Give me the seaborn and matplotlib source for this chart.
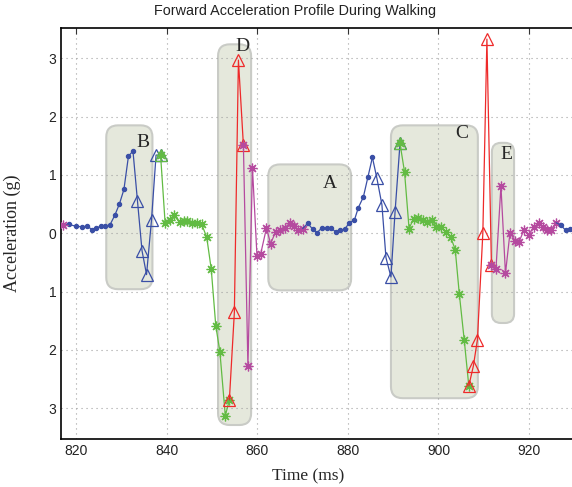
import matplotlib
matplotlib.use("Agg")
import matplotlib.pyplot as plt
import seaborn as sns
from matplotlib.patches import FancyBboxPatch

# ---------------- data ----------------
mag0_t = [817.0]
mag0_a = [0.14]

blue1_t = [817.0, 818.3, 819.9, 821.3, 822.4, 823.5, 824.3, 825.5, 826.4, 827.4,
           828.5, 829.5, 830.5, 831.5, 832.5]
blue1_a = [0.14, 0.15, 0.12, 0.11, 0.12, 0.06, 0.09, 0.12, 0.12, 0.14,
           0.31, 0.50, 0.75, 1.32, 1.41]

btri1_t = [832.5, 833.5, 834.5, 835.5, 836.6, 837.6, 838.6]
btri1_a = [1.41, 0.55, -0.30, -0.71, 0.23, 1.34, 1.34]

green1_t = [838.6, 839.6, 840.6, 841.5, 842.8, 843.7, 844.4, 845.5, 846.6, 847.7,
            848.8, 849.8, 850.8, 851.7, 852.9, 853.8]
green1_a = [1.34, 0.18, 0.23, 0.31, 0.19, 0.21, 0.21, 0.17, 0.17, 0.15,
            -0.07, -0.62, -1.59, -2.03, -3.13, -2.86]

red1_t = [853.8, 854.9, 855.8, 856.9]
red1_a = [-2.86, -1.36, 2.97, 1.51]

mag1_t = [856.9, 857.9, 858.9, 859.9, 860.7, 862.0, 862.9, 864.0, 865.0, 866.0,
          867.1, 868.0, 868.9, 870.0]
mag1_a = [1.51, -2.28, 1.12, -0.39, -0.36, 0.09, -0.18, 0.02, 0.06, 0.09,
          0.17, 0.12, 0.06, 0.08]

blue2_t = [870.0, 871.1, 872.2, 873.2, 874.2, 875.3, 876.3, 877.3, 878.3, 879.3,
           880.3, 881.4, 882.3, 883.4, 884.4, 885.4]
blue2_a = [0.08, 0.17, 0.07, 0.01, 0.09, 0.09, 0.09, 0.02, 0.05, 0.07,
           0.18, 0.22, 0.44, 0.62, 0.96, 1.30]

btri2_t = [885.4, 886.4, 887.5, 888.4, 889.5, 890.4, 891.5]
btri2_a = [1.30, 0.94, 0.49, -0.42, -0.75, 0.36, 1.54]

green2_t = [891.5, 892.5, 893.5, 894.5, 895.4, 896.5, 897.4, 898.5, 899.5, 900.6,
            901.6, 902.7, 903.7, 904.6, 905.7, 906.7]
green2_a = [1.54, 1.05, 0.08, 0.25, 0.26, 0.22, 0.19, 0.23, 0.11, 0.10,
            0.02, -0.07, -0.28, -1.04, -1.84, -2.62]

red2_t = [906.7, 907.7, 908.6, 909.8, 910.7, 911.7]
red2_a = [-2.62, -2.28, -1.83, 0.0, 3.33, -0.55]

mag2_t = [911.7, 912.7, 913.8, 914.8, 915.8, 916.9, 917.8, 918.9, 919.9, 921.0,
          922.1, 923.0, 923.9, 924.9, 926.0]
mag2_a = [-0.55, -0.62, 0.81, -0.69, 0.01, -0.13, -0.15, 0.06, -0.03, 0.10,
          0.17, 0.10, 0.06, 0.06, 0.18]

blue3_t = [926.0, 927.0, 928.1, 929.0]
blue3_a = [0.18, 0.14, 0.05, 0.08]

# shaded regions: label, x0, x1, y0, y1, label position
region_names = ["B", "D", "A", "C", "E"]
region_x0 = [826.6, 851.3, 862.4, 889.5, 911.8]
region_x1 = [836.8, 858.6, 880.7, 908.7, 916.7]
region_y0 = [-0.96, -3.29, -0.98, -2.83, -1.54]
region_y1 = [1.85, 3.24, 1.18, 1.85, 1.55]
label_x = [834.6, 856.6, 876.1, 905.2, 915.1]
label_y = [1.56, 3.20, 0.86, 1.71, 1.35]

xticks = [820, 840, 860, 880, 900, 920]
yticks = [3, 2, 1, 0, -1, -2, -3]
ytick_labels = ["3", "2", "1", "0", "1", "2", "3"]

# ---------------- style ----------------
sns.set_style("white")
plt.rcParams["font.family"] = ["Liberation Sans", "DejaVu Sans"]

BLUE = "#3a4fa6"
GREEN = "#62bb43"
RED = "#ee2a2a"
MAG = "#b54a9f"
STAR = (8, 2, 0)

fig = plt.figure(figsize=(5.72, 4.87), dpi=100)
ax = fig.add_axes([61 / 572, 48 / 487, 1 - 61 / 572, (439 - 28) / 487])

# regions
for name, x0, x1, y0, y1, lx, ly in zip(region_names, region_x0, region_x1,
                                         region_y0, region_y1, label_x, label_y):
    rs = 2.0 if (x1 - x0) < 6 else 2.6
    box = FancyBboxPatch((x0, y0), x1 - x0, y1 - y0,
                         boxstyle=f"round,pad=0,rounding_size={rs}",
                         mutation_aspect=0.205 / 2.65,
                         facecolor="#e5e8dc", edgecolor="#c9cbc6", lw=1.5, zorder=1)
    ax.add_patch(box)
    ax.text(lx, ly, name, family=["Liberation Serif", "DejaVu Serif"], fontsize=14,
            ha="center", va="center", zorder=6)


def seg(t, a, color, marker, ms, every=None, mfc="none", z=3):
    kw = dict(marker=marker, markersize=ms, markeredgecolor=color,
              markerfacecolor=mfc, markeredgewidth=0.9, lw=0.9)
    if every is not None:
        kw["markevery"] = every
    sns.lineplot(x=t, y=a, ax=ax, color=color, sort=False, estimator=None,
                 zorder=z, **kw)


seg(blue1_t, blue1_a, BLUE, "o", 3.0, mfc=BLUE)
seg(btri1_t, btri1_a, BLUE, "^", 9, every=slice(1, None))
seg(green1_t, green1_a, GREEN, STAR, 7)
seg(green1_t[:1], green1_a[:1], GREEN, "^", 9)
seg(red1_t, red1_a, RED, "^", 9)
seg(mag1_t, mag1_a, MAG, STAR, 7)
seg(blue2_t, blue2_a, BLUE, "o", 3.0, every=slice(1, None), mfc=BLUE)
seg(btri2_t, btri2_a, BLUE, "^", 9, every=slice(1, None))
seg(green2_t, green2_a, GREEN, STAR, 7)
seg(green2_t[:1], green2_a[:1], GREEN, "^", 9)
seg(red2_t, red2_a, RED, "^", 9)
seg(mag2_t, mag2_a, MAG, STAR, 7)
seg(blue3_t, blue3_a, BLUE, "o", 3.0, every=slice(1, None), mfc=BLUE)
seg(mag0_t, mag0_a, MAG, STAR, 7)

ax.set_xlim(816.6, 929.5)
ax.set_ylim(-3.53, 3.52)
ax.set_xticks(xticks)
ax.set_yticks(yticks)
ax.set_yticklabels(ytick_labels)
ax.set_axisbelow("line")
ax.grid(True, linestyle=(0, (1, 3.5)), color="#a0a0a0", lw=0.8)
ax.tick_params(direction="in", length=4, width=0.8, top=True, right=False,
               labelsize=10, labelcolor="#222222", color="#333333")
for s in ["left", "top", "bottom"]:
    ax.spines[s].set_color("black")
    ax.spines[s].set_linewidth(1.2)
ax.spines["right"].set_visible(False)

ax.set_xlabel("Time (ms)", family=["Liberation Serif", "DejaVu Serif"], fontsize=12.5)
ax.set_ylabel("Acceleration (g)", family=["Liberation Serif", "DejaVu Serif"], fontsize=13)
ax.xaxis.set_label_coords((308 - 61) / 511, -(468 - 439) / 411)
ax.yaxis.set_label_coords(-(61 - 21) / 511, 0.5)
fig.text(295 / 572, 1 - 11 / 487, "Forward Acceleration Profile During Walking",
         ha="center", va="center", fontsize=10.4, color="#222222")

fig.savefig("out.png", dpi=100)
